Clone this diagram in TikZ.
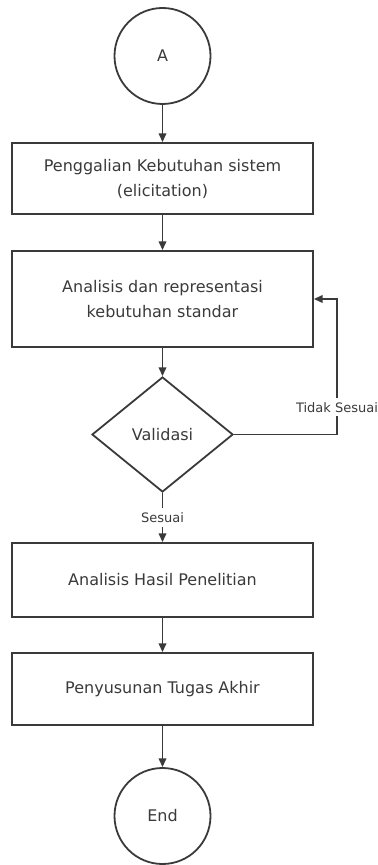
\documentclass[tikz,border=0pt]{standalone}
\usepackage{fontspec}
\setmainfont{DejaVu Sans}
\usetikzlibrary{shapes.geometric,arrows.meta}
\definecolor{linegray}{HTML}{3A3A3A}
\begin{document}
\begin{tikzpicture}[x=.5pt,y=-.5pt,
    every node/.style={text=linegray,inner sep=0pt},
    proc/.style={draw=linegray,line width=.9pt,minimum width=150.5pt,align=center,font=\fontsize{8}{12.5}\selectfont},
    term/.style={circle,draw=linegray,line width=.9pt,minimum size=48pt,font=\fontsize{8}{12.5}\selectfont},
    decide/.style={diamond,draw=linegray,line width=.9pt,minimum width=70.5pt,minimum height=57.5pt,font=\fontsize{8}{12.5}\selectfont},
    lbl/.style={fill=white,inner sep=2pt,font=\fontsize{6.5}{8}\selectfont},
    arr/.style={draw=linegray,line width=.9pt,-{Triangle[width=3.8pt,length=4.4pt]}}]
\useasboundingbox (0,0) rectangle (378,865);
%terminals
\node[term] (startA) at (162.5,56){A};
\node[term] (finish) at (162.5,816){End};
%steps
\node[proc,minimum height=35.5pt] (elicit) at (162.5,178.5){Penggalian Kebutuhan sistem\\(elicitation)};
\node[proc,minimum height=48pt] (analisis) at (162.5,299){Analisis dan representasi\\kebutuhan standar};
\node[decide] (validasi) at (162.5,434.5){Validasi};
\node[proc,minimum height=37pt] (hasil) at (162.5,580){Analisis Hasil Penelitian};
\node[proc,minimum height=36pt] (tugas) at (162.5,689){Penyusunan Tugas Akhir};
%arrows
\foreach \a/\b in {startA/elicit, elicit/analisis, analisis/validasi, hasil/tugas, tugas/finish}{
    \path[arr] (\a) -- (\b);
}
\path[arr] (validasi) -- node[lbl,pos=.5]{Sesuai} (hasil);
\coordinate (loop) at (337,434.5);
\path[arr] (validasi.east) -- (loop) -- node[lbl,pos=.2]{Tidak Sesuai} (loop |- analisis.east) -- (analisis.east);
\end{tikzpicture}
\end{document}
